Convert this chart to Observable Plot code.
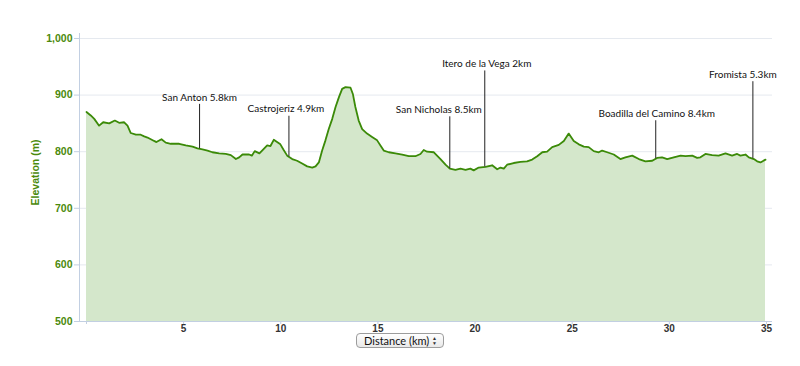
<!DOCTYPE html>
<html><head><meta charset="utf-8">
<script src="https://cdn.jsdelivr.net/npm/d3@7"></script>
<script src="https://cdn.jsdelivr.net/npm/@observablehq/plot@0.6"></script>
<style>
body{margin:0;background:#fff;}
#wrap{position:relative;width:800px;height:366px;overflow:hidden;}
#sel{position:absolute;left:356px;top:333px;width:88px;height:15px;border:1px solid #9c9c9c;border-radius:4px;background:linear-gradient(#ffffff,#e9e9e9);font:11px "Lato",sans-serif;color:#111;box-sizing:border-box;padding-left:7px;line-height:13px;}
#sel .arr{position:absolute;right:6px;top:2px;font-size:5px;line-height:4.5px;color:#333;}
</style>
</head><body>
<div id="wrap"><div id="chart"></div><div id="sel">Distance (km)<span class="arr">▲<br>▼</span></div></div>
<script>
const distKm = [0,0.22,0.4,0.65,0.86,1.17,1.46,1.68,1.94,2.11,2.28,2.54,2.79,2.97,3.14,3.31,3.48,3.6,3.86,4.08,4.34,4.77,5.11,5.46,5.71,5.97,6.23,6.48,6.83,7.17,7.43,7.69,7.86,8.03,8.37,8.51,8.66,8.9,9.04,9.3,9.47,9.64,9.81,9.98,10.15,10.33,10.59,10.84,11.1,11.36,11.62,11.79,11.96,12.13,12.3,12.47,12.65,12.82,12.99,13.16,13.33,13.59,13.71,13.84,14.01,14.19,14.44,14.7,14.96,15.13,15.3,15.56,15.9,16.25,16.59,16.93,17.19,17.36,17.53,17.88,18.22,18.48,18.7,18.99,19.25,19.51,19.76,19.93,20.19,20.54,20.88,21.14,21.31,21.48,21.65,21.99,22.34,22.68,22.94,23.2,23.46,23.71,23.97,24.31,24.57,24.82,25.08,25.34,25.6,25.85,26.11,26.37,26.54,26.8,27.14,27.48,27.74,28.09,28.43,28.77,29.12,29.37,29.63,29.89,30.23,30.58,30.83,31.18,31.43,31.6,31.86,32.2,32.54,32.89,33.23,33.49,33.66,33.92,34.09,34.35,34.52,34.69,34.95];
const elevM = [870,864,858,846,852,850,855,851,852,846,833,830,830,827,825,822,819,817,822,816,814,814,811,809,806,804,802,799,797,796,794,787,790,795,795,793,801,797,802,811,810,821,817,813,803,793,787,784,779,774,772,774,781,802,820,840,858,879,896,911,914,913,902,879,855,840,832,826,820,811,802,799,797,795,792,792,796,803,800,799,787,777,770,768,770,768,770,767,772,773,776,769,772,770,777,780,782,783,786,792,799,800,808,812,819,832,819,813,809,808,801,799,802,799,795,787,790,793,787,783,784,789,790,787,790,793,792,793,789,790,796,794,793,797,793,796,793,795,790,787,783,781,786];
const markerNames = ["San Anton 5.8km","Castrojeriz 4.9km","San Nicholas 8.5km","Itero de la Vega 2km","Boadilla del Camino 8.4km","Fromista 5.3km"];
const markerKm = [5.82,10.42,18.7,20.5,29.3,34.3];
const labelElev = [896,875,874,955,867,936];
const yTicks = [500,600,700,800,900,1000];
const xTicks = [0,5,10,15,20,25,30,35];

const profile = distKm.map((d,i)=>({d, e: elevM[i]}));
function interp(x){
  const i = Math.max(1, Math.min(distKm.length-1, d3.bisectRight(distKm, x)));
  const t = (x-distKm[i-1])/(distKm[i]-distKm[i-1]);
  return elevM[i-1] + t*(elevM[i]-elevM[i-1]);
}
const markers = markerNames.map((n,i)=>({name:n, d:markerKm[i], e:interp(markerKm[i]), top:labelElev[i]}));

const GREEN = "#3b8a08";
const TXTGREEN = "#4b8a0c";
const AXIS = "#c2cfe2";
const X0 = -0.36, X1 = 35.31;
const labelDx = [0,-3,-11,2,1,-10];

const chart = Plot.plot({
  width: 800, height: 334,
  marginTop: 33, marginLeft: 79, marginRight: 28, marginBottom: 13,
  x: {domain: [X0, X1]},
  y: {domain: [500, 1008.8]},
  style: {fontFamily: "Liberation Sans", background: "#fff", overflow: "visible"},
  marks: [
    Plot.gridY(yTicks.slice(1), {stroke: "#e5e9ef", strokeOpacity: 1}),
    Plot.areaY(profile, {x: "d", y1: 500, y2: "e", fill: "#d4e7cb"}),
    Plot.lineY(profile, {x: "d", y: "e", stroke: GREEN, strokeWidth: 1.8, strokeLinejoin: "round"}),
    Plot.ruleX(markers, {x: "d", y1: "top", y2: "e", insetTop: 7, stroke: "#222", strokeWidth: 1}),
    ...markers.map((m,i)=>Plot.text([m], {x: "d", y: "top", text: "name", dx: labelDx[i], lineAnchor: "middle", fontFamily: "Lato", fontSize: 10, fill: "#111"})),
    Plot.ruleX([X0], {stroke: AXIS}),
    Plot.ruleY([500], {stroke: AXIS}),
    Plot.axisY({ticks: yTicks, tickFormat: d3.format(","), tickSize: 5, tickPadding: 2, stroke: AXIS, fill: TXTGREEN, fontWeight: "bold", fontSize: 10.5, label: null}),
    Plot.axisX({ticks: xTicks, tickFormat: d => d === 0 ? "" : d, tickSize: 3, tickPadding: 0, stroke: AXIS, fill: "#333", fontWeight: "bold", fontSize: 10, label: null}),
    Plot.text(["Elevation (m)"], {frameAnchor: "left", textAnchor: "middle", rotate: -90, dx: -44, dy: -5, fill: TXTGREEN, fontWeight: "bold", fontSize: 10.5})
  ]
});
document.getElementById("chart").appendChild(chart);
</script>
</body></html>
